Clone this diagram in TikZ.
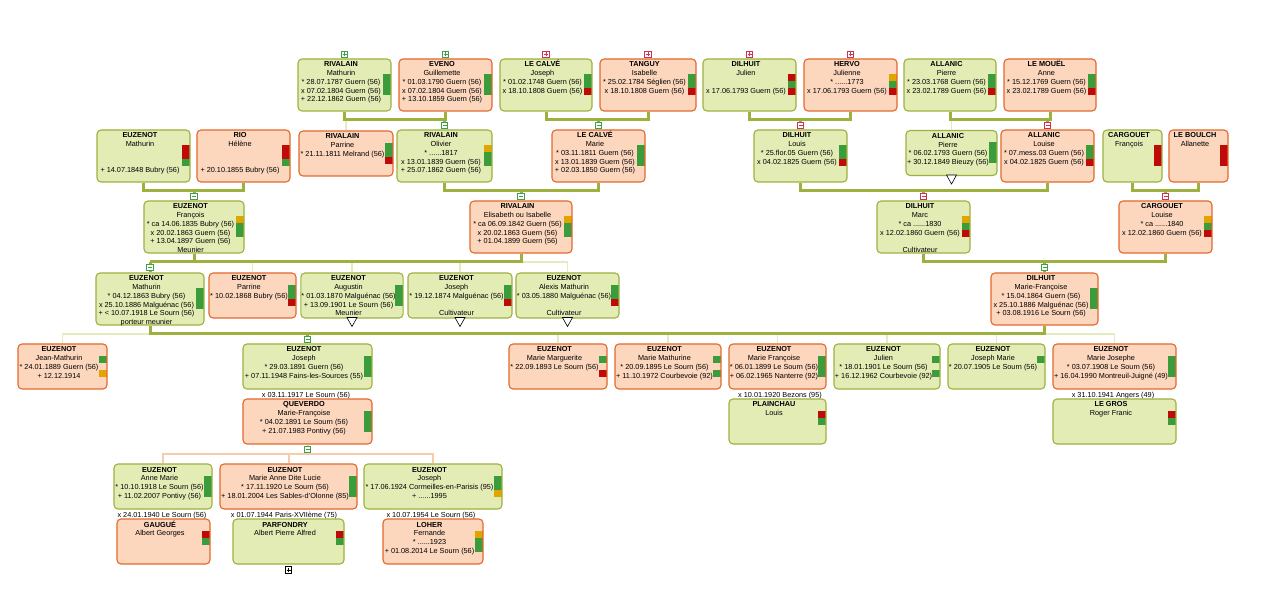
\documentclass[tikz,border=0pt]{standalone}
\usepackage{fontspec}
\setmainfont{Liberation Sans}
\usepackage{tikz}
\usetikzlibrary{calc}
\definecolor{mfill}{HTML}{E4ECB6}
\definecolor{mline}{HTML}{9DB13E}
\definecolor{ffill}{HTML}{FCD6BD}
\definecolor{fline}{HTML}{E2692C}
\definecolor{gn}{HTML}{3A9C3A}
\definecolor{rd}{HTML}{C00A0A}
\definecolor{yl}{HTML}{E2A500}
\definecolor{stemc}{HTML}{9DB13E}
\definecolor{twigc}{HTML}{E6EBBE}
\definecolor{kinc}{HTML}{F8CBA9}
\definecolor{sgn}{HTML}{3F9F4A}
\definecolor{srd}{HTML}{CC3350}
\newcommand{\pcard}[1]{\begin{tabular}[t]{@{}c@{}}#1\end{tabular}\hspace*{7pt}}

\begin{document}
\begin{tikzpicture}[x=1pt, y=-1pt, font=\fontsize{7.3}{8.7}\selectfont,
   card/.style={rounded corners=4pt, line width=1.1pt, inner xsep=0.5pt, inner ysep=0pt, text height=8pt},
   man/.style={card, draw=mline, fill=mfill},
   wom/.style={card, draw=fline, fill=ffill},
   tall/.style={text depth=44pt},
   short/.style={text depth=37pt},
   wd/.style={minimum width=#1pt},
   bars/.style n args={3}{path picture={
      \path[sharp corners, fill=#1] ([xshift=-8pt,yshift=10.5pt]path picture bounding box.east) rectangle ([xshift=-0.5pt,yshift=3.5pt]path picture bounding box.east);
      \path[sharp corners, fill=#2] ([xshift=-8pt,yshift=3.5pt]path picture bounding box.east) rectangle ([xshift=-0.5pt,yshift=-3.5pt]path picture bounding box.east);
      \path[sharp corners, fill=#3] ([xshift=-8pt,yshift=-3.5pt]path picture bounding box.east) rectangle ([xshift=-0.5pt,yshift=-10.5pt]path picture bounding box.east);}},
   stem/.style={draw=stemc, line width=3pt},
   twig/.style={draw=twigc, line width=1.5pt},
   kin/.style={draw=kinc, line width=2pt},
   minbox/.style={draw=#1, fill=white, line width=0.7pt, minimum size=6.5pt, inner sep=0pt,
      path picture={\draw[#1, line width=0.9pt] ([xshift=-2pt]path picture bounding box.center) -- ([xshift=2pt]path picture bounding box.center);}},
   plusbox/.style={draw=#1, fill=white, line width=0.7pt, minimum size=6.5pt, inner sep=0pt,
      path picture={\draw[#1, line width=0.9pt] ([xshift=-2pt]path picture bounding box.center) -- ([xshift=2pt]path picture bounding box.center)
         ([yshift=-2pt]path picture bounding box.center) -- ([yshift=2pt]path picture bounding box.center);}},
   tri/.style={draw=black, fill=white, line width=0.6pt},
   xlab/.style={inner sep=0pt}]
   \path[use as bounding box, fill=white] (0,0) rectangle (1288,593);

   \node[man,tall,wd=93,bars={gn}{gn}{gn}] (rm) at (344.5,85) {\pcard{\textbf{RIVALAIN}\\Mathurin\\{*} 28.07.1787 Guern (56)\\x 07.02.1804 Guern (56)\\+ 22.12.1862 Guern (56)}};
   \node[wom,tall,wd=93,bars={gn}{gn}{gn}] (ev) at (445.5,85) {\pcard{\textbf{EVENO}\\Guillemette\\{*} 01.03.1790 Guern (56)\\x 07.02.1804 Guern (56)\\+ 13.10.1859 Guern (56)}};
   \node[man,tall,wd=92,bars={gn}{gn}{rd}] (lj) at (546,85) {\pcard{\textbf{LE CALVÉ}\\Joseph\\{*} 01.02.1748 Guern (56)\\x 18.10.1808 Guern (56)}};
   \node[wom,tall,wd=96,bars={gn}{gn}{rd}] (ti) at (648,85) {\pcard{\textbf{TANGUY}\\Isabelle\\{*} 25.02.1784 Séglien (56)\\x 18.10.1808 Guern (56)}};
   \node[man,tall,wd=93,bars={rd}{gn}{rd}] (dj) at (749.5,85) {\pcard{\textbf{DILHUIT}\\Julien\\ \\x 17.06.1793 Guern (56)}};
   \node[wom,tall,wd=93,bars={yl}{gn}{rd}] (hj) at (850.5,85) {\pcard{\textbf{HERVO}\\Julienne\\{*} ......1773\\x 17.06.1793 Guern (56)}};
   \node[man,tall,wd=92,bars={gn}{gn}{rd}] (ap1) at (950,85) {\pcard{\textbf{ALLANIC}\\Pierre\\{*} 23.03.1768 Guern (56)\\x 23.02.1789 Guern (56)}};
   \node[wom,tall,wd=92,bars={gn}{gn}{rd}] (am) at (1050,85) {\pcard{\textbf{LE MOUËL}\\Anne\\{*} 15.12.1769 Guern (56)\\x 23.02.1789 Guern (56)}};

   \node[man,tall,wd=93,bars={rd}{rd}{gn}] (em2) at (143.5,156) {\pcard{\textbf{EUZENOT}\\Mathurin\\ \\ \\+ 14.07.1848 Bubry (56)}};
   \node[wom,tall,wd=93,bars={rd}{rd}{gn}] (rh) at (243.5,156) {\pcard{\textbf{RIO}\\Hélène\\ \\ \\+ 20.10.1855 Bubry (56)}};
   \node[wom,short,wd=94,bars={gn}{gn}{rd}] (rp) at (346,153.5) {\pcard{\textbf{RIVALAIN}\\Parrine\\{*} 21.11.1811 Melrand (56)}};
   \node[man,tall,wd=95,bars={yl}{gn}{gn}] (ov) at (444.5,156) {\pcard{\textbf{RIVALAIN}\\Olivier\\{*} ......1817\\x 13.01.1839 Guern (56)\\+ 25.07.1862 Guern (56)}};
   \node[wom,tall,wd=93,bars={gn}{gn}{gn}] (lm) at (598.5,156) {\pcard{\textbf{LE CALVÉ}\\Marie\\{*} 03.11.1811 Guern (56)\\x 13.01.1839 Guern (56)\\+ 02.03.1850 Guern (56)}};
   \node[man,tall,wd=93,bars={gn}{gn}{rd}] (dl) at (800.5,156) {\pcard{\textbf{DILHUIT}\\Louis\\{*} 25.flor.05 Guern (56)\\x 04.02.1825 Guern (56)}};
   \node[man,short,wd=91,bars={gn}{gn}{gn}] (ap2) at (951.5,153) {\pcard{\textbf{ALLANIC}\\Pierre\\{*} 06.02.1793 Guern (56)\\+ 30.12.1849 Bieuzy (56)}};
   \node[wom,tall,wd=93,bars={gn}{gn}{rd}] (al) at (1047.5,156) {\pcard{\textbf{ALLANIC}\\Louise\\{*} 07.mess.03 Guern (56)\\x 04.02.1825 Guern (56)}};
   \node[man,tall,wd=59,bars={rd}{rd}{rd}] (cf) at (1132.5,156) {\pcard{\textbf{CARGOUET}\\François}};
   \node[wom,tall,wd=59,bars={rd}{rd}{rd}] (lb) at (1198.5,156) {\pcard{\textbf{LE BOULCH}\\Allanette}};

   \node[man,tall,wd=100,bars={yl}{gn}{gn}] (ef) at (194,227) {\pcard{\textbf{EUZENOT}\\François\\{*} ca 14.06.1835 Bubry (56)\\x 20.02.1863 Guern (56)\\+ 13.04.1897 Guern (56)\\Meunier}};
   \node[wom,tall,wd=102,bars={yl}{gn}{gn}] (er) at (521,227) {\pcard{\textbf{RIVALAIN}\\Elisabeth ou Isabelle\\{*} ca 06.09.1842 Guern (56)\\x 20.02.1863 Guern (56)\\+ 01.04.1899 Guern (56)}};
   \node[man,tall,wd=93,bars={yl}{gn}{rd}] (dm) at (923.5,227) {\pcard{\textbf{DILHUIT}\\Marc\\{*} ca ......1830\\x 12.02.1860 Guern (56)\\ \\Cultivateur}};
   \node[wom,tall,wd=93,bars={yl}{gn}{rd}] (cl) at (1165.5,227) {\pcard{\textbf{CARGOUET}\\Louise\\{*} ca ......1840\\x 12.02.1860 Guern (56)}};

   \node[man,tall,wd=108,bars={gn}{gn}{gn}] (em4) at (150,299) {\pcard{\textbf{EUZENOT}\\Mathurin\\{*} 04.12.1863 Bubry (56)\\x 25.10.1886 Malguénac (56)\\+ < 10.07.1918 Le Sourn (56)\\porteur meunier}};
   \node[wom,short,wd=87,bars={gn}{gn}{rd}] (ep) at (252.5,295.5) {\pcard{\textbf{EUZENOT}\\Parrine\\{*} 10.02.1868 Bubry (56)}};
   \node[man,short,wd=102,bars={gn}{gn}{gn}] (ea) at (352,295.5) {\pcard{\textbf{EUZENOT}\\Augustin\\{*} 01.03.1870 Malguénac (56)\\+ 13.09.1901 Le Sourn (56)\\Meunier}};
   \node[man,short,wd=104,bars={gn}{gn}{rd}] (ej4) at (460,295.5) {\pcard{\textbf{EUZENOT}\\Joseph\\{*} 19.12.1874 Malguénac (56)\\ \\Cultivateur}};
   \node[man,short,wd=103,bars={gn}{gn}{rd}] (ex) at (567.5,295.5) {\pcard{\textbf{EUZENOT}\\Alexis Mathurin\\{*} 03.05.1880 Malguénac (56)\\ \\Cultivateur}};
   \node[wom,tall,wd=107,bars={gn}{gn}{gn}] (mf) at (1044.5,299) {\pcard{\textbf{DILHUIT}\\Marie-Françoise\\{*} 15.04.1864 Guern (56)\\x 25.10.1886 Malguénac (56)\\+ 03.08.1916 Le Sourn (56)}};

   \node[wom,short,wd=89,bars={gn}{none}{yl}] (jm) at (62.5,366.5) {\pcard{\textbf{EUZENOT}\\Jean-Mathurin\\{*} 24.01.1889 Guern (56)\\+ 12.12.1914}};
   \node[man,short,wd=129,bars={gn}{gn}{gn}] (ej5) at (307.5,366.5) {\pcard{\textbf{EUZENOT}\\Joseph\\{*} 29.03.1891 Guern (56)\\+ 07.11.1948 Fains-les-Sources (55)}};
   \node[wom,short,wd=98,bars={gn}{none}{rd}] (mm1) at (558,366.5) {\pcard{\textbf{EUZENOT}\\Marie Marguerite\\{*} 22.09.1893 Le Sourn (56)}};
   \node[wom,short,wd=106,bars={gn}{none}{gn}] (mm2) at (668,366.5) {\pcard{\textbf{EUZENOT}\\Marie Mathurine\\{*} 20.09.1895 Le Sourn (56)\\+ 11.10.1972 Courbevoie (92)}};
   \node[wom,short,wd=97,bars={gn}{gn}{gn}] (mm3) at (777.5,366.5) {\pcard{\textbf{EUZENOT}\\Marie Françoise\\{*} 06.01.1899 Le Sourn (56)\\+ 06.02.1965 Nanterre (92)}};
   \node[man,short,wd=106,bars={gn}{none}{gn}] (ju) at (887,366.5) {\pcard{\textbf{EUZENOT}\\Julien\\{*} 18.01.1901 Le Sourn (56)\\+ 16.12.1962 Courbevoie (92)}};
   \node[man,short,wd=97,bars={gn}{none}{none}] (jo) at (996.5,366.5) {\pcard{\textbf{EUZENOT}\\Joseph Marie\\{*} 20.07.1905 Le Sourn (56)}};
   \node[wom,short,wd=123,bars={gn}{gn}{gn}] (mj) at (1114.5,366.5) {\pcard{\textbf{EUZENOT}\\Marie Josephe\\{*} 03.07.1908 Le Sourn (56)\\+ 16.04.1990 Montreuil-Juigné (49)}};

   \node[xlab] (x03) at (306,395.5) {x 03.11.1917 Le Sourn (56)};
   \node[xlab] (x10) at (780,395.5) {x 10.01.1920 Bezons (95)};
   \node[xlab] (x31) at (1113,395.5) {x 31.10.1941 Angers (49)};
   \node[wom,short,wd=129,bars={gn}{gn}{gn}] (qv) at (307.5,421.5) {\pcard{\textbf{QUEVERDO}\\Marie-Françoise\\{*} 04.02.1891 Le Sourn (56)\\+ 21.07.1983 Pontivy (56)}};
   \node[man,short,wd=97,bars={rd}{gn}{none}] (pl) at (777.5,421.5) {\pcard{\textbf{PLAINCHAU}\\Louis}};
   \node[man,short,wd=123,bars={rd}{gn}{none}] (lg) at (1114.5,421.5) {\pcard{\textbf{LE GROS}\\Roger Franic}};

   \node[man,short,wd=98,bars={gn}{gn}{gn}] (am6) at (163,486.5) {\pcard{\textbf{EUZENOT}\\Anne Marie\\{*} 10.10.1918 Le Sourn (56)\\+ 11.02.2007 Pontivy (56)}};
   \node[wom,short,wd=137,bars={gn}{gn}{gn}] (lu) at (288.5,486.5) {\pcard{\textbf{EUZENOT}\\Marie Anne Dite Lucie\\{*} 17.11.1920 Le Sourn (56)\\+ 18.01.2004 Les Sables-d'Olonne (85)}};
   \node[man,short,wd=138,bars={gn}{gn}{yl}] (jo6) at (433,486.5) {\pcard{\textbf{EUZENOT}\\Joseph\\{*} 17.06.1924 Cormeilles-en-Parisis (95)\\+ ......1995}};

   \node[xlab] (x24) at (162,515.5) {x 24.01.1940 Le Sourn (56)};
   \node[xlab] (x01) at (284,515.5) {x 01.07.1944 Paris-XVIIème (75)};
   \node[xlab] (x54) at (431,515.5) {x 10.07.1954 Le Sourn (56)};
   \node[wom,short,wd=93,bars={rd}{gn}{none}] (ga) at (163.5,541.5) {\pcard{\textbf{GAUGUÉ}\\Albert Georges}};
   \node[man,short,wd=111,bars={rd}{gn}{none}] (pf) at (288.5,541.5) {\pcard{\textbf{PARFONDRY}\\Albert Pierre Alfred}};
   \node[wom,short,wd=100,bars={yl}{gn}{gn}] (lo) at (433,541.5) {\pcard{\textbf{LOHER}\\Fernande\\{*} ......1923\\+ 01.08.2014 Le Sourn (56)}};

   \coordinate (j1) at (444.5,120);
   \coordinate (j2) at (598.5,120);
   \coordinate (j3) at (800.5,120);
   \coordinate (j4) at (1047.5,120);
   \coordinate (j5) at (194,191);
   \coordinate (j6) at (521,191);
   \coordinate (j7) at (923.5,191);
   \coordinate (j8) at (1165.5,191);
   \coordinate (j9) at (150,262);
   \coordinate (j10) at (1044.5,262);
   \coordinate (j11) at (307.5,334);
   \coordinate (j12) at (307.5,454);

   \begin{scope}[twig]
    \draw (rp.north) -- (rp.north |- j1);
    \draw (ap2.north) -- (ap2.north |- j4);
    \draw (ep.north) -- (ep.north |- j9);
    \draw (ea.north) -- (ea.north |- j9);
    \draw (ej4.north) -- (ej4.north |- j9);
    \draw (ex.north) |- (j9);
    \draw (jm.north) |- (j11);
    \draw (mj.north) |- (j11);
    \draw (mm1.north) -- (mm1.north |- j11);
    \draw (mm2.north) -- (mm2.north |- j11);
    \draw (mm3.north) -- (mm3.north |- j11);
    \draw (ju.north) -- (ju.north |- j11);
    \draw (jo.north) -- (jo.north |- j11);
   \end{scope}
   \begin{scope}[stem]
    \draw (rm.south) |- (j1) -| (ev.south);  \draw (j1) -- (ov.north);
    \draw (lj.south) |- (j2) -| (ti.south);  \draw (j2) -- (lm.north);
    \draw (dj.south) |- (j3) -| (hj.south);  \draw (j3) -- (dl.north);
    \draw (ap1.south) |- (j4) -| (am.south); \draw (j4) -- (al.north);
    \draw (em2.south) |- (j5) -| (rh.south); \draw (j5) -- (ef.north);
    \draw (ov.south) |- (j6) -| (lm.south);  \draw (j6) -- (er.north);
    \draw (dl.south) |- (j7) -| (al.south);  \draw (j7) -- (dm.north);
    \draw (cf.south) |- (j8) -| (lb.south);  \draw (j8) -- (cl.north);
    \draw (er.south) |- (j9);  \draw (ef.south) -- (ef.south |- j9);  \draw (j9) -- (em4.north);
    \draw (dm.south) |- (j10) -| (cl.south); \draw (j10) -- (mf.north);
    \draw (mf.south) |- (j11) -| (em4.south); \draw (j11) -- (ej5.north);
   \end{scope}
   \begin{scope}[kin]
    \draw (qv.south) -- (j12);
    \draw (am6.north) |- (j12);
    \draw (jo6.north) |- (j12);
    \draw (lu.north) -- (lu.north |- j12);
   \end{scope}

   \node[plusbox=sgn] (p1) at (344.5,54.5) {};
   \node[plusbox=sgn] (p2) at (445.5,54.5) {};
   \node[plusbox=srd] (p3) at (546,54.5) {};
   \node[plusbox=srd] (p4) at (648,54.5) {};
   \node[plusbox=srd] (p5) at (749.5,54.5) {};
   \node[plusbox=srd] (p6) at (850.5,54.5) {};
   \node[plusbox=black] (p7) at (288.5,570) {};
   \node[minbox=sgn] (m1) at ([yshift=-5.5pt]j1) {};
   \node[minbox=sgn] (m2) at ([yshift=-5.5pt]j2) {};
   \node[minbox=srd] (m3) at ([yshift=-5.5pt]j3) {};
   \node[minbox=srd] (m4) at ([yshift=-5.5pt]j4) {};
   \node[minbox=sgn] (m5) at ([yshift=-5.5pt]j5) {};
   \node[minbox=sgn] (m6) at ([yshift=-5.5pt]j6) {};
   \node[minbox=srd] (m7) at ([yshift=-5.5pt]j7) {};
   \node[minbox=srd] (m8) at ([yshift=-5.5pt]j8) {};
   \node[minbox=sgn] (m9) at ([yshift=-5.5pt]j9) {};
   \node[minbox=sgn] (m10) at ([yshift=-5.5pt]j10) {};
   \node[minbox=sgn] (m11) at ([yshift=-5.5pt]j11) {};
   \node[minbox=sgn] (m12) at ([yshift=4.5pt]j12) {};

   \draw[tri] ([xshift=-5pt,yshift=1pt]ea.south) -- ++(10,0) -- ++(-5,9) -- cycle;
   \draw[tri] ([xshift=-5pt,yshift=1pt]ej4.south) -- ++(10,0) -- ++(-5,9) -- cycle;
   \draw[tri] ([xshift=-5pt,yshift=1pt]ex.south) -- ++(10,0) -- ++(-5,9) -- cycle;
   \draw[tri] ([xshift=-5pt,yshift=1pt]ap2.south) -- ++(10,0) -- ++(-5,9) -- cycle;
\end{tikzpicture}
\end{document}
